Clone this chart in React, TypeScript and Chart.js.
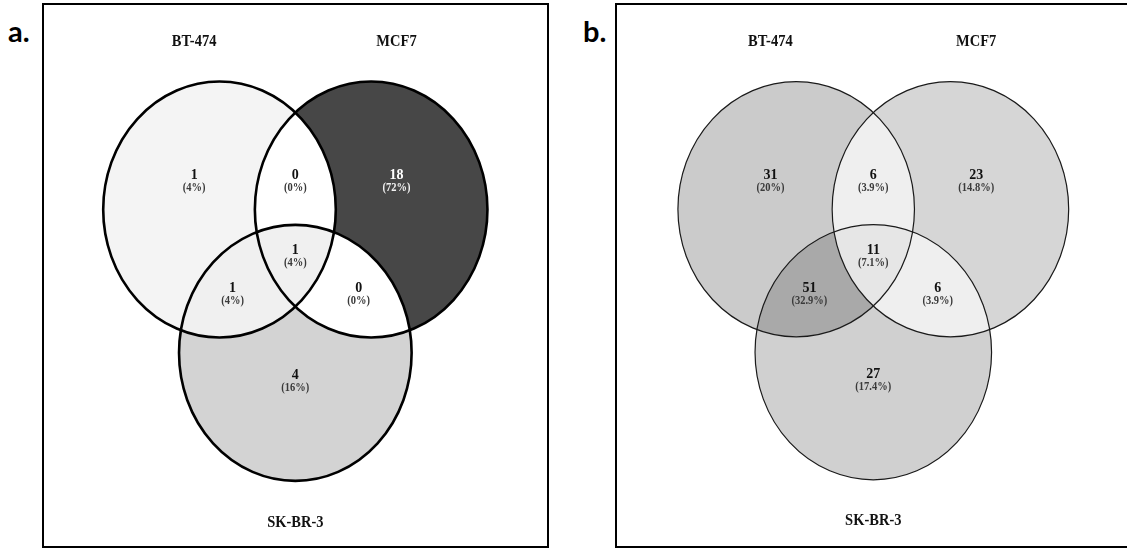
import React, { useEffect, useRef } from "react";
import { Chart, registerables } from "chart.js";

Chart.register(...registerables);

// Set names, in circle order: upper-left, upper-right, bottom.
const setNames = ["BT-474", "MCF7", "SK-BR-3"];

// Regions of the diagram, each given by the sets it belongs to
// (bit 1 = BT-474, bit 2 = MCF7, bit 4 = SK-BR-3).
const regionMembers = [1, 3, 2, 5, 7, 6, 4];

// Panel a
const countsA = [1, 0, 18, 1, 1, 0, 4];
const percentsA = ["4%", "0%", "72%", "4%", "4%", "0%", "16%"];
const fillsA = ["#f4f4f4", "#ffffff", "#474747", "#f0f0f0", "#f0f0f0", "#ffffff", "#d3d3d3"];

// Panel b
const countsB = [31, 6, 23, 51, 11, 6, 27];
const percentsB = ["20%", "3.9%", "14.8%", "32.9%", "7.1%", "3.9%", "17.4%"];
const fillsB = ["#cbcbcb", "#efefef", "#d6d6d6", "#a9a9a9", "#e6e6e6", "#efefef", "#d0d0d0"];

// Diagram geometry in axis units (unit-radius circles).
const CENTERS = [
  [-0.652, 0],
  [0.652, 0],
  [0, -1.12],
];
const RADIUS = 1;
const REGION_POS = [
  [-0.87, 0.27],
  [0, 0.27],
  [0.87, 0.27],
  [-0.54, -0.615],
  [0, -0.316],
  [0.545, -0.615],
  [0, -1.29],
];
const NAME_POS = [
  [-0.87, 1.31],
  [0.87, 1.31],
  [0, -2.445],
];

const SERIF = "'Liberation Serif', 'Times New Roman', serif";

type Panel = {
  tag: string;
  tagLeft: number;
  left: number;
  width: number;
  counts: number[];
  percents: string[];
  fills: string[];
  xRange: [number, number];
  yRange: [number, number];
  stroke: string;
  lineWidth: number;
};

const PANELS: Panel[] = [
  {
    tag: "a.",
    tagLeft: 8,
    left: 42,
    width: 507,
    counts: countsA,
    percents: percentsA,
    fills: fillsA,
    xRange: [-2.161, 2.164],
    yRange: [-2.629, 1.598],
    stroke: "#000000",
    lineWidth: 2.6,
  },
  {
    tag: "b.",
    tagLeft: 583,
    left: 615,
    width: 514,
    counts: countsB,
    percents: percentsB,
    fills: fillsB,
    xRange: [-2.167, 2.145],
    yRange: [-2.639, 1.601],
    stroke: "#1a1a1a",
    lineWidth: 1.2,
  },
];

function isDark(hex: string) {
  const v = parseInt(hex.slice(1, 3), 16);
  return v < 110;
}

function drawText(
  ctx: CanvasRenderingContext2D,
  text: string,
  x: number,
  y: number,
  font: string,
  color: string
) {
  ctx.save();
  ctx.translate(x, y);
  ctx.scale(1, 1.1);
  ctx.font = font;
  ctx.fillStyle = color;
  ctx.textAlign = "center";
  ctx.textBaseline = "middle";
  ctx.fillText(text, 0, 0);
  ctx.restore();
}

function makeVennPlugin(panel: Panel) {
  return {
    id: "venn",
    beforeDatasetsDraw(chart: any) {
      const { ctx } = chart;
      const xs = chart.scales.x;
      const ys = chart.scales.y;
      const W = chart.width;
      const H = chart.height;
      const ellipses = CENTERS.map(([cx, cy]) => {
        const px = xs.getPixelForValue(cx);
        const py = ys.getPixelForValue(cy);
        return {
          cx: px,
          cy: py,
          rx: Math.abs(xs.getPixelForValue(cx + RADIUS) - px),
          ry: Math.abs(ys.getPixelForValue(cy + RADIUS) - py),
        };
      });

      // Fill each region: inside its member circles, outside the others.
      regionMembers.forEach((mask, i) => {
        ctx.save();
        ellipses.forEach((e, k) => {
          ctx.beginPath();
          if (mask & (1 << k)) {
            ctx.ellipse(e.cx, e.cy, e.rx, e.ry, 0, 0, Math.PI * 2);
            ctx.clip();
          } else {
            ctx.rect(0, 0, W, H);
            ctx.ellipse(e.cx, e.cy, e.rx, e.ry, 0, 0, Math.PI * 2);
            ctx.clip("evenodd");
          }
        });
        ctx.fillStyle = panel.fills[i];
        ctx.fillRect(0, 0, W, H);
        ctx.restore();
      });

      // Circle outlines
      ctx.save();
      ctx.strokeStyle = panel.stroke;
      ctx.lineWidth = panel.lineWidth;
      ellipses.forEach((e) => {
        ctx.beginPath();
        ctx.ellipse(e.cx, e.cy, e.rx, e.ry, 0, 0, Math.PI * 2);
        ctx.stroke();
      });
      ctx.restore();
    },
    afterDatasetsDraw(chart: any) {
      const { ctx } = chart;
      const regionMeta = chart.getDatasetMeta(0);
      regionMeta.data.forEach((pt: any, i: number) => {
        const dark = isDark(panel.fills[i]);
        drawText(ctx, String(panel.counts[i]), pt.x, pt.y, `bold 14px ${SERIF}`, dark ? "#ffffff" : "#111111");
        drawText(ctx, `(${panel.percents[i]})`, pt.x, pt.y + 13, `bold 10.5px ${SERIF}`, dark ? "#f2f2f2" : "#3a3a3a");
      });
      const nameMeta = chart.getDatasetMeta(1);
      nameMeta.data.forEach((pt: any, i: number) => {
        drawText(ctx, setNames[i], pt.x, pt.y, `bold 14.5px ${SERIF}`, "#111111");
      });
    },
  };
}

function VennPanel({ panel }: { panel: Panel }) {
  const ref = useRef<HTMLCanvasElement>(null);

  useEffect(() => {
    if (!ref.current) return;
    const chart = new Chart(ref.current, {
      type: "scatter",
      data: {
        datasets: [
          {
            label: "regions",
            data: REGION_POS.map(([x, y]) => ({ x, y })),
            pointRadius: 0,
            pointHoverRadius: 0,
          },
          {
            label: "sets",
            data: NAME_POS.map(([x, y]) => ({ x, y })),
            pointRadius: 0,
            pointHoverRadius: 0,
          },
        ],
      },
      options: {
        animation: false,
        responsive: false,
        devicePixelRatio: 1,
        events: [],
        layout: { padding: 0 },
        plugins: {
          legend: { display: false },
          tooltip: { enabled: false },
          title: { display: false },
        },
        scales: {
          x: { type: "linear", min: panel.xRange[0], max: panel.xRange[1], display: false },
          y: { type: "linear", min: panel.yRange[0], max: panel.yRange[1], display: false },
        },
      },
      plugins: [makeVennPlugin(panel)],
    });
    return () => chart.destroy();
  }, [panel]);

  return (
    <>
      <div
        style={{
          position: "absolute",
          left: panel.tagLeft,
          top: 17,
          font: "bold 29px Lato, 'Open Sans', sans-serif",
          lineHeight: "28px",
          color: "#000",
        }}
      >
        {panel.tag}
      </div>
      <div
        style={{
          position: "absolute",
          left: panel.left,
          top: 3,
          width: panel.width,
          height: 545,
          border: "2px solid #000",
          boxSizing: "border-box",
          background: "#fff",
        }}
      >
        <canvas ref={ref} width={panel.width - 4} height={541} style={{ display: "block" }} />
      </div>
    </>
  );
}

export default function App() {
  return (
    <div
      style={{
        position: "fixed",
        left: 0,
        top: 0,
        width: 1127,
        height: 551,
        overflow: "hidden",
        background: "#fff",
      }}
    >
      {PANELS.map((p) => (
        <VennPanel key={p.tag} panel={p} />
      ))}
    </div>
  );
}
